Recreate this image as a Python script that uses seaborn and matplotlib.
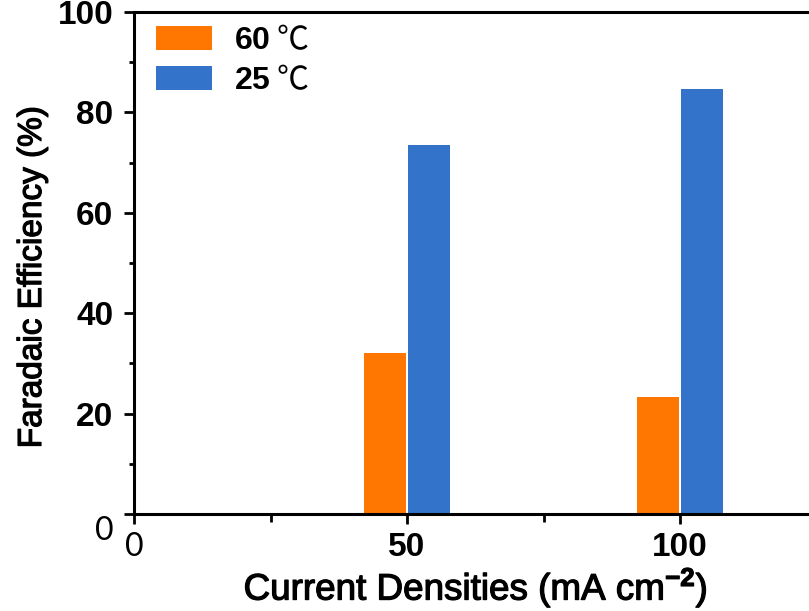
import numpy as np
import pandas as pd
import matplotlib
matplotlib.use("Agg")
import matplotlib.pyplot as plt
import matplotlib.transforms as mtransforms
import matplotlib.patheffects as pe
from matplotlib.ticker import MultipleLocator
from matplotlib.font_manager import FontProperties
import seaborn as sns

# Faradaic efficiency at two current densities and two temperatures
densities = [50, 100]
fe_60C = [32.0, 23.4]
fe_25C = [73.6, 84.6]
temp_labels = [r"$\mathbf{60}$ ℃", r"$\mathbf{25}$ ℃"]
bar_colors = ["#FF7600", "#3373C9"]
y_ticks = [0, 20, 40, 60, 80, 100]
x_ticks = [0, 50, 100]

df = pd.DataFrame({
    "density": densities * 2,
    "fe": fe_60C + fe_25C,
    "temp": [temp_labels[0]] * len(densities) + [temp_labels[1]] * len(densities),
})

sns.set_style("ticks")
plt.rcParams["font.family"] = ["Liberation Sans", "DejaVu Sans"]
plt.rcParams["mathtext.fontset"] = "custom"
plt.rcParams["mathtext.rm"] = "Liberation Sans"
plt.rcParams["mathtext.bf"] = "Liberation Sans:bold"
plt.rcParams["mathtext.it"] = "Liberation Sans:italic"
for key in ["text.color", "axes.labelcolor", "xtick.color", "ytick.color", "axes.edgecolor"]:
    plt.rcParams[key] = "black"

W, H = 809, 611
fig = plt.figure(figsize=(W / 100, H / 100), dpi=100)
x0_px, y0_px, ytop_px = 134, 514, 12
px_per_unit = 5.46
xmax = 125
ax = fig.add_axes([x0_px / W, (H - y0_px) / H,
                   xmax * px_per_unit / W, (y0_px - ytop_px) / H])

sns.barplot(data=df, x="density", y="fe", hue="temp", hue_order=temp_labels,
            palette=bar_colors, native_scale=True, width=0.32, gap=0.05,
            saturation=1, linewidth=0, errorbar=None, ax=ax)

ax.set_xlim(0, xmax)
ax.set_ylim(0, 100)
ax.set_xticks(x_ticks)
ax.set_yticks(y_ticks)
ax.xaxis.set_minor_locator(MultipleLocator(25))
ax.yaxis.set_minor_locator(MultipleLocator(10))
ax.set_xticklabels([str(v) for v in x_ticks])
ax.set_yticklabels([str(v) for v in y_ticks])

for side in ["left", "bottom", "top"]:
    ax.spines[side].set_linewidth(2.2)
    ax.spines[side].set_color("black")
ax.spines["right"].set_visible(False)

ax.tick_params(axis="both", which="both", direction="out", width=2.0,
               color="black", labelcolor="black")
ax.tick_params(axis="x", which="major", length=7.2, pad=5.5)
ax.tick_params(axis="x", which="minor", length=5.5)
ax.tick_params(axis="y", which="major", length=7, pad=8)
ax.tick_params(axis="y", which="minor", length=3.6)
ax.tick_params(top=False, right=False, which="both")

for lab in ax.get_xticklabels() + ax.get_yticklabels():
    if lab.get_text() == "0":
        lab.set_fontfamily("Lato")
        lab.set_fontweight("normal")
        lab.set_fontsize(23)
    else:
        lab.set_fontweight("bold")
        lab.set_fontsize(24)

# the y-axis zero sits a little below its tick
for lab in ax.get_yticklabels():
    if lab.get_text() == "0":
        lab.set_transform(lab.get_transform() +
                          mtransforms.ScaledTranslation(0, -14 / 100, fig.dpi_scale_trans))

heavier = [pe.withStroke(linewidth=0.9, foreground="black")]
xl = ax.set_xlabel(r"Current Densities (mA cm$^{\mathbf{-2}}$)", fontsize=26.5, labelpad=2)
yl = ax.set_ylabel("Faradaic Efficiency (%)", fontsize=24)
xl.set_path_effects(heavier)
yl.set_path_effects(heavier)
ax.yaxis.set_label_coords((48 - x0_px) / (xmax * px_per_unit), (y0_px - 277) / (y0_px - ytop_px))

handles, labels = ax.get_legend_handles_labels()
ax.legend(handles, labels, loc="upper left",
          bbox_to_anchor=(156 / W, 1 - 24 / H), bbox_transform=fig.transFigure,
          frameon=False, borderpad=0, borderaxespad=0,
          handlelength=1.75, handleheight=0.78, handletextpad=0.7,
          labelspacing=0.25,
          prop=FontProperties(family=["Noto Sans CJK SC"], size=23))

fig.savefig("out.png", dpi=100)
